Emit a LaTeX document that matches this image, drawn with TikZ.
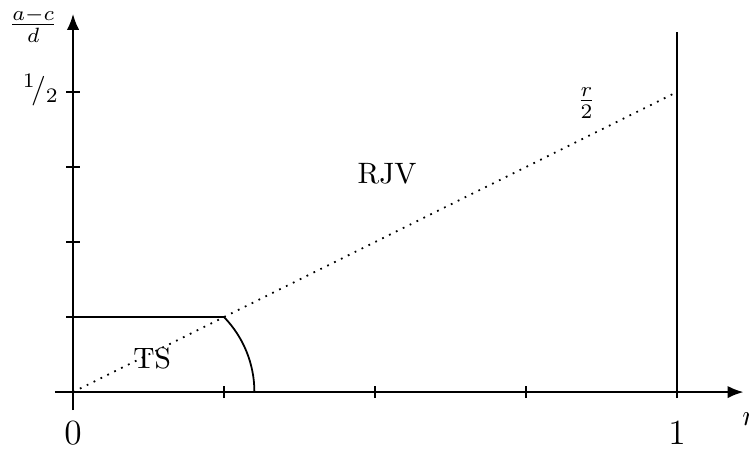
\documentclass[tikz,border=0pt]{standalone}
\usetikzlibrary{arrows.meta}
\begin{document}
\begin{tikzpicture}[x=204.7pt,y=203.4pt,
  axis/.style={line width=0.6pt,-{Latex[length=5.4pt,width=4.2pt]}},
  plain/.style={line width=0.6pt},
  ratio/.style={dotted,line width=0.6pt}]
\useasboundingbox (-0.1209,-0.0933) rectangle (1.1192,0.6533);
\coordinate (O) at (0,0);
\coordinate (xs) at (-0.03,0);
\coordinate (xe) at (1.11,0);
\coordinate (ys) at (0,-0.03);
\coordinate (ye) at (0,0.63);
\draw[axis] (xs) -- (xe);
\draw[axis] (ys) -- (ye);
\foreach \x in {0.25,0.5,0.75} \draw[plain] (\x,-0.01) -- (\x,0.01);
\foreach \y in {0.25,0.375,0.5} \draw[plain] (-0.0116,\y) -- (0.0116,\y);
\coordinate (Vb) at (1,-0.01);
\coordinate (Vt) at (1,0.6);
\draw[plain] (Vb) -- (Vt);
\coordinate (Hs) at (-0.0116,0.125);
\coordinate (H) at (0.25,0.125);
\draw[plain] (Hs) -- (H) arc[start angle=43.9,end angle=0,radius=0.18];
\coordinate (R) at (1,0.5);
\draw[ratio] (O) -- (R);
\node[anchor=base] (zero) at (0,-0.0867) {\large $0$};
\node[anchor=base] (one) at (1,-0.0867) {\large $1$};
\node (rlab) at (1.12,-0.045) {$r$};
\node (ylab) at (-0.066,0.612) {$\frac{a-c}{d}$};
\node (half) at (-0.053,0.503) {${}^1\!/_2$};
\node (rhalf) at (0.85,0.482) {$\frac{r}{2}$};
\node[anchor=base] (rjv) at (0.52,0.3467) {RJV};
\node[anchor=base] (ts) at (0.131,0.04) {TS};
\end{tikzpicture}
\end{document}
